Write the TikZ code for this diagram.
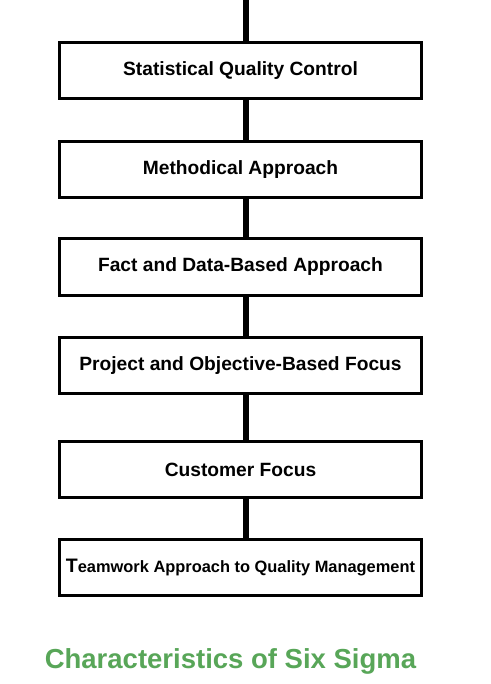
\documentclass[tikz,border=0pt]{standalone}
\usepackage{fontspec}
\setmainfont{Liberation Sans}
\usepackage{tikz}
\usetikzlibrary{calc}
\definecolor{sigmagreen}{RGB}{88,166,88}

\tikzset{
  charbox/.style={draw, line width=3pt, minimum width=362pt, minimum height=56pt,
    inner sep=0pt, font=\fontsize{19.2}{21}\selectfont\bfseries},
  link/.style={line width=6pt}
}

\begin{document}
\begin{tikzpicture}[x=1pt, y=-1pt]
        \useasboundingbox (0,0) rectangle (490,684);
        % Các ô
        \node[charbox] (b1) at (240.5,71) {Statistical Quality Control};
        \node[charbox] (b2) at (240.5,169.5) {Methodical Approach};
        \node[charbox] (b3) at (240.5,267) {Fact and Data-Based Approach};
        \node[charbox] (b4) at (240.5,365.5) {Project and Objective-Based Focus};
        \node[charbox] (b5) at (240.5,469.5) {Customer Focus};
        \node[charbox, font=\fontsize{16.4}{18}\selectfont\bfseries] (b6) at (240.5,567.5)
          {{\fontsize{19.5}{20}\selectfont T}eamwork Approach to Quality Management};
        % Đường nối
        \coordinate (top) at (246,0);
        \draw[link] (top) -- ([xshift=5.5pt]b1.north);
        \foreach \a/\b in {b1/b2, b2/b3, b3/b4, b4/b5, b5/b6}
          \draw[link] ([xshift=5.5pt]\a.south) -- ([xshift=5.5pt]\b.north);
        % Tiêu đề
        \node[text=sigmagreen, font=\fontsize{27.5}{30}\selectfont\bfseries] (title) at (230.5,661) {Characteristics of Six Sigma};
    \end{tikzpicture}
\end{document}
